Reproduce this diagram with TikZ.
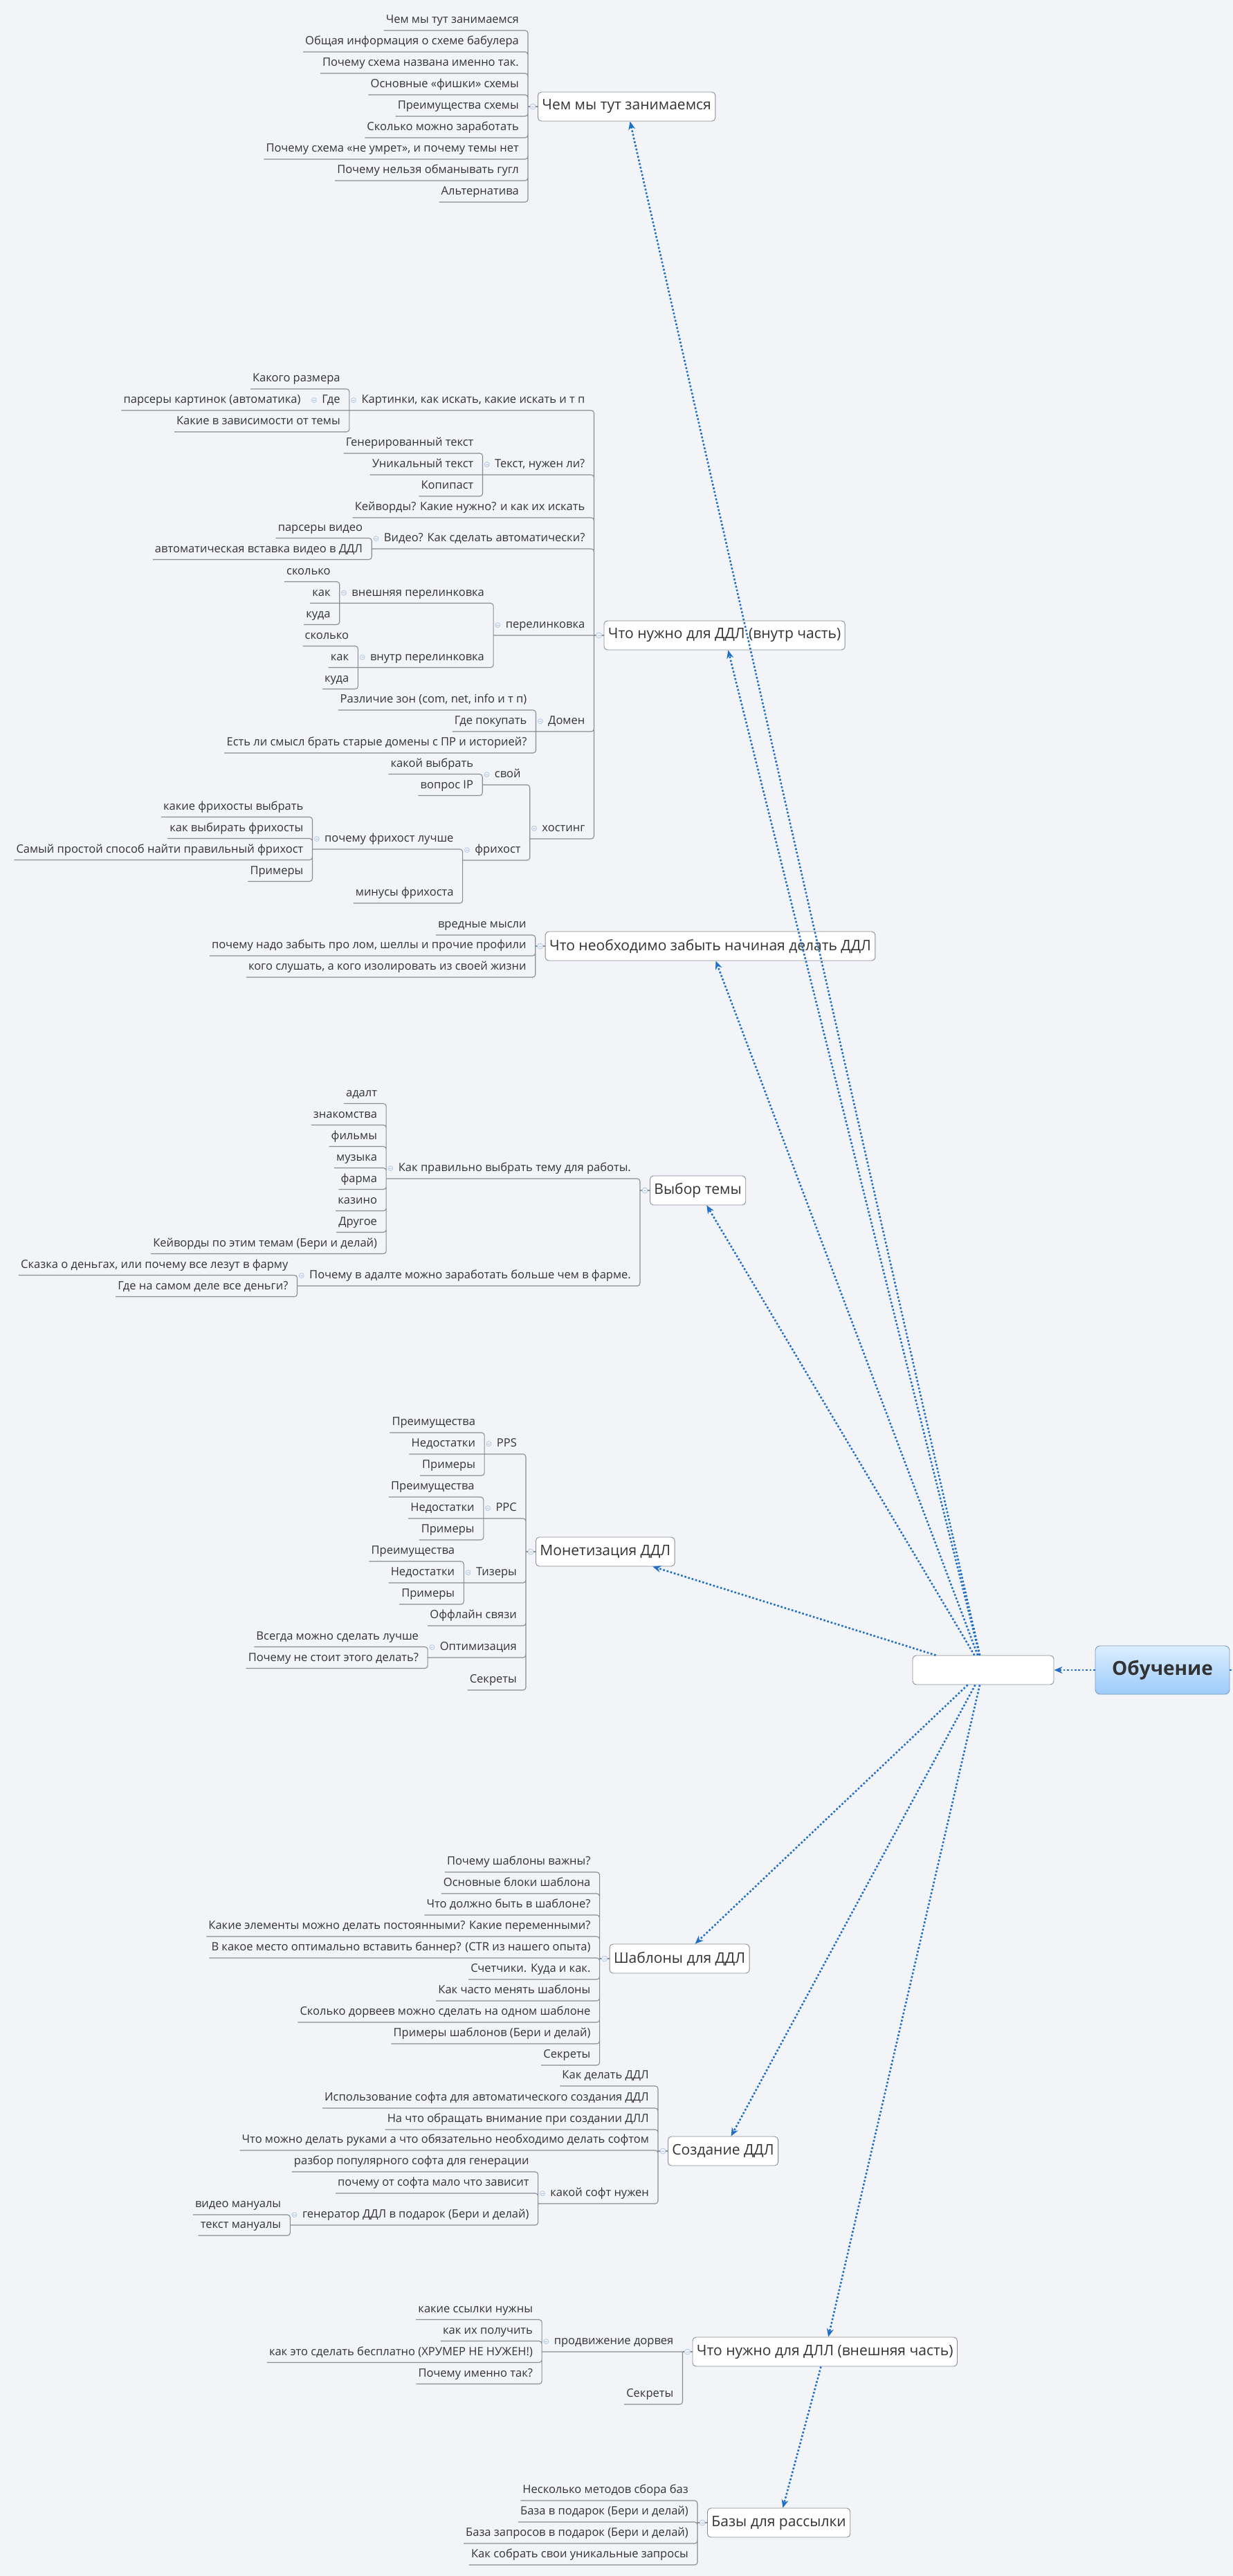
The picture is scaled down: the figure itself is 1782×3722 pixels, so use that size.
\documentclass[tikz,border=0pt]{standalone}
\usepackage{fontspec}
\setmainfont{Open Sans}
\usepackage{tikz}
\usetikzlibrary{arrows.meta,positioning}
\definecolor{mapBg}{HTML}{F2F4F7}
\definecolor{mapLine}{HTML}{8A8D93}
\definecolor{mapText}{HTML}{333333}
\definecolor{mapBlue}{HTML}{1F6FC5}
\definecolor{togLine}{HTML}{B4C9E3}
\definecolor{togFill}{HTML}{EEF3FA}
\definecolor{rootTop}{HTML}{DCEEFF}
\definecolor{rootBot}{HTML}{9CCBFA}
\definecolor{rootEdge}{HTML}{7E9CBD}

\begin{document}
\begin{tikzpicture}[x=1pt, y=-1pt, >=Stealth,
  leaf/.style={anchor=south east, inner xsep=3pt, inner ysep=0pt,
    text height=12pt, text depth=10pt, font=\fontsize{16.5}{18}\selectfont, text=mapText},
  sub/.style={leaf, execute at begin node={\hspace*{14.5pt}},
    path picture={
      \draw[togLine, fill=togFill, line width=0.8pt]
        ([xshift=6pt,yshift=3.7pt]path picture bounding box.west) circle (3.5pt);
      \draw[togLine, line width=0.8pt]
        ([xshift=4pt,yshift=3.7pt]path picture bounding box.west) -- ([xshift=8pt,yshift=3.7pt]path picture bounding box.west);}},
  topic/.style={anchor=west, draw=mapLine, fill=white, rounded corners=5pt, line width=0.9pt,
    inner xsep=6pt, minimum height=42pt, font=\fontsize{21}{24}\selectfont, text=mapText},
  hubbox/.style={draw=mapLine, fill=white, rounded corners=5pt, line width=0.9pt,
    minimum width=204pt, minimum height=42pt},
  root/.style={draw=rootEdge, top color=rootTop, bottom color=rootBot, rounded corners=7pt,
    line width=0.9pt, minimum width=194pt, minimum height=70pt,
    font=\bfseries\fontsize{28}{32}\selectfont, text=mapText},
  tog/.style={circle, draw=togLine, fill=togFill, line width=0.8pt, minimum size=8pt, inner sep=0pt,
    path picture={\draw[togLine, line width=0.8pt] ([xshift=-2pt]path picture bounding box.center) -- ([xshift=2pt]path picture bounding box.center);}},
  ln/.style={mapLine, line width=1.1pt, rounded corners=4pt},
  rel/.style={mapBlue, line width=2.6pt, dash pattern=on 2.6pt off 2.8pt, -{Stealth[length=12pt,width=10pt]}}]

\useasboundingbox (0,0) rectangle (1782,3722);
\fill[mapBg] (0,0) rectangle (1782,3722);

% --- root and hub ---
\node[root] (obuch) at (1680,2413) {Обучение};
\node[hubbox] (hub) at (1421,2413) {};
\coordinate (edgeR) at (1782,2413);

% --- Чем мы тут занимаемся ---
\node[topic] (zan) at (777,154) {Чем мы тут занимаемся};
\coordinate (zanB) at ([xshift=-14pt]zan.west);
\node[leaf] (zan1) at ([shift={(-10,-110)}]zanB) {Чем мы тут занимаемся};
\node[leaf] (zan2) at ([shift={(-10,-79)}]zanB) {Общая информация о схеме бабулера};
\node[leaf] (zan3) at ([shift={(-10,-48)}]zanB) {Почему схема названа именно так.};
\node[leaf] (zan4) at ([shift={(-10,-17)}]zanB) {Основные «фишки» схемы};
\node[leaf] (zan5) at ([shift={(-10,14)}]zanB) {Преимущества схемы};
\node[leaf] (zan6) at ([shift={(-10,45)}]zanB) {Сколько можно заработать};
\node[leaf] (zan7) at ([shift={(-10,76)}]zanB) {Почему схема «не умрет», и почему темы нет};
\node[leaf] (zan8) at ([shift={(-10,107)}]zanB) {Почему нельзя обманывать гугл};
\node[leaf] (zan9) at ([shift={(-10,138)}]zanB) {Альтернатива};
\draw[ln] (zan1.south west) -| (zanB) (zan2.south west) -| (zanB) (zan3.south west) -| (zanB)
  (zan4.south west) -| (zanB) (zan5.south west) -| (zanB) (zan6.south west) -| (zanB)
  (zan7.south west) -| (zanB) (zan8.south west) -| (zanB) (zan9.south west) -| (zanB);
\draw[ln] (zanB) -- (zan.west);
\node[tog] (zanT) at ([xshift=-7pt]zan.west) {};

% --- Что нужно для ДДЛ (внутр часть) ---
\node[topic] (vnutr) at (872.5,918) {Что нужно для ДДЛ (внутр часть)};
\coordinate (vnutrB) at ([xshift=-14pt]vnutr.west);
\node[sub] (kart) at ([shift={(-10,-325)}]vnutrB) {Картинки, как искать, какие искать и т п};
\node[sub] (tekst) at ([shift={(-10,-232)}]vnutrB) {Текст, нужен ли?};
\node[leaf] (keyw) at ([shift={(-10,-170)}]vnutrB) {Кейворды? Какие нужно? и как их искать};
\node[sub] (video) at ([shift={(-10,-125)}]vnutrB) {Видео? Как сделать автоматически?};
\node[sub] (perel) at ([shift={(-10,0)}]vnutrB) {перелинковка};
\node[sub] (domen) at ([shift={(-10,139)}]vnutrB) {Домен};
\node[sub] (host) at ([shift={(-10,294)}]vnutrB) {хостинг};
\draw[ln] (kart.south west) -| (vnutrB) (tekst.south west) -| (vnutrB) (keyw.south west) -| (vnutrB)
  (video.south west) -| (vnutrB) (perel.south west) -- (vnutrB) (domen.south west) -| (vnutrB)
  (host.south west) -| (vnutrB);
\draw[ln] (vnutrB) -- (vnutr.west);
\node[tog] (vnutrT) at ([xshift=-7pt]vnutr.west) {};

\node[leaf] (kart1) at ([shift={(-10,-31)}]kart.south west) {Какого размера};
\node[sub] (gde) at ([shift={(-10,0)}]kart.south west) {Где};
\node[leaf] (kart3) at ([shift={(-10,31)}]kart.south west) {Какие в зависимости от темы};
\node[leaf] (gde1) at ([shift={(-10,0)}]gde.south west) {парсеры картинок (автоматика)};
\draw[ln] (kart1.south west) -| (kart.south west) (gde.south west) -- (kart.south west)
  (kart3.south west) -| (kart.south west) (gde1.south west) -- (gde.south west);

\node[leaf] (tekst1) at ([shift={(-10,-31)}]tekst.south west) {Генерированный текст};
\node[leaf] (tekst2) at ([shift={(-10,0)}]tekst.south west) {Уникальный текст};
\node[leaf] (tekst3) at ([shift={(-10,31)}]tekst.south west) {Копипаст};
\draw[ln] (tekst1.south west) -| (tekst.south west) (tekst2.south west) -- (tekst.south west)
  (tekst3.south west) -| (tekst.south west);

\node[leaf] (video1) at ([shift={(-10,-15.5)}]video.south west) {парсеры видео};
\node[leaf] (video2) at ([shift={(-10,15.5)}]video.south west) {автоматическая вставка видео в ДДЛ};
\draw[ln] (video1.south west) -| (video.south west) (video2.south west) -| (video.south west);

\node[sub] (vneshp) at ([shift={(-10,-46.5)}]perel.south west) {внешняя перелинковка};
\node[sub] (vnutrp) at ([shift={(-10,46.5)}]perel.south west) {внутр перелинковка};
\draw[ln] (vneshp.south west) -| (perel.south west) (vnutrp.south west) -| (perel.south west);
\node[leaf] (vneshp1) at ([shift={(-10,-31)}]vneshp.south west) {сколько};
\node[leaf] (vneshp2) at ([shift={(-10,0)}]vneshp.south west) {как};
\node[leaf] (vneshp3) at ([shift={(-10,31)}]vneshp.south west) {куда};
\draw[ln] (vneshp1.south west) -| (vneshp.south west) (vneshp2.south west) -- (vneshp.south west)
  (vneshp3.south west) -| (vneshp.south west);
\node[leaf] (vnutrp1) at ([shift={(-10,-31)}]vnutrp.south west) {сколько};
\node[leaf] (vnutrp2) at ([shift={(-10,0)}]vnutrp.south west) {как};
\node[leaf] (vnutrp3) at ([shift={(-10,31)}]vnutrp.south west) {куда};
\draw[ln] (vnutrp1.south west) -| (vnutrp.south west) (vnutrp2.south west) -- (vnutrp.south west)
  (vnutrp3.south west) -| (vnutrp.south west);

\node[leaf] (domen1) at ([shift={(-10,-31)}]domen.south west) {Различие зон (com, net, info и т п)};
\node[leaf] (domen2) at ([shift={(-10,0)}]domen.south west) {Где покупать};
\node[leaf] (domen3) at ([shift={(-10,31)}]domen.south west) {Есть ли смысл брать старые домены с ПР и историей?};
\draw[ln] (domen1.south west) -| (domen.south west) (domen2.south west) -- (domen.south west)
  (domen3.south west) -| (domen.south west);

\node[sub] (svoy) at ([shift={(-10,-78)}]host.south west) {свой};
\node[sub] (free) at ([shift={(-10,31)}]host.south west) {фрихост};
\draw[ln] (svoy.south west) -| (host.south west) (free.south west) -| (host.south west);
\node[leaf] (svoy1) at ([shift={(-10,-15.5)}]svoy.south west) {какой выбрать};
\node[leaf] (svoy2) at ([shift={(-10,15.5)}]svoy.south west) {вопрос IP};
\draw[ln] (svoy1.south west) -| (svoy.south west) (svoy2.south west) -| (svoy.south west);
\node[sub] (whyfree) at ([shift={(-10,-16)}]free.south west) {почему фрихост лучше};
\node[leaf] (free2) at ([shift={(-10,62)}]free.south west) {минусы фрихоста};
\draw[ln] (whyfree.south west) -| (free.south west) (free2.south west) -| (free.south west);
\node[leaf] (whyfree1) at ([shift={(-10,-46.5)}]whyfree.south west) {какие фрихосты выбрать};
\node[leaf] (whyfree2) at ([shift={(-10,-15.5)}]whyfree.south west) {как выбирать фрихосты};
\node[leaf] (whyfree3) at ([shift={(-10,15.5)}]whyfree.south west) {Самый простой способ найти правильный фрихост};
\node[leaf] (whyfree4) at ([shift={(-10,46.5)}]whyfree.south west) {Примеры};
\draw[ln] (whyfree1.south west) -| (whyfree.south west) (whyfree2.south west) -| (whyfree.south west)
  (whyfree3.south west) -| (whyfree.south west) (whyfree4.south west) -| (whyfree.south west);

% --- Что необходимо забыть ---
\node[topic] (zabyt) at (787.7,1367) {Что необходимо забыть начиная делать ДДЛ};
\coordinate (zabytB) at ([xshift=-14pt]zabyt.west);
\node[leaf] (zabyt1) at ([shift={(-10,-16)}]zabytB) {вредные мысли};
\node[leaf] (zabyt2) at ([shift={(-10,14)}]zabytB) {почему надо забыть про лом, шеллы и прочие профили};
\node[leaf] (zabyt3) at ([shift={(-10,45)}]zabytB) {кого слушать, а кого изолировать из своей жизни};
\draw[ln] (zabyt1.south west) -| (zabytB) (zabyt2.south west) -| (zabytB) (zabyt3.south west) -| (zabytB);
\draw[ln] (zabytB) -- (zabyt.west);
\node[tog] (zabytT) at ([xshift=-7pt]zabyt.west) {};

% --- Выбор темы ---
\node[topic] (tema) at (939,1720) {Выбор темы};
\coordinate (temaB) at ([xshift=-14pt]tema.west);
\node[sub] (kakt) at ([shift={(-10,-17)}]temaB) {Как правильно выбрать тему для работы.};
\node[sub] (adalt) at ([shift={(-10,138)}]temaB) {Почему в адалте можно заработать больше чем в фарме.};
\draw[ln] (kakt.south west) -| (temaB) (adalt.south west) -| (temaB);
\draw[ln] (temaB) -- (tema.west);
\node[tog] (temaT) at ([xshift=-7pt]tema.west) {};
\node[leaf] (kakt1) at ([shift={(-10,-108.5)}]kakt.south west) {адалт};
\node[leaf] (kakt2) at ([shift={(-10,-77.5)}]kakt.south west) {знакомства};
\node[leaf] (kakt3) at ([shift={(-10,-46.5)}]kakt.south west) {фильмы};
\node[leaf] (kakt4) at ([shift={(-10,-15.5)}]kakt.south west) {музыка};
\node[leaf] (kakt5) at ([shift={(-10,15.5)}]kakt.south west) {фарма};
\node[leaf] (kakt6) at ([shift={(-10,46.5)}]kakt.south west) {казино};
\node[leaf] (kakt7) at ([shift={(-10,77.5)}]kakt.south west) {Другое};
\node[leaf] (kakt8) at ([shift={(-10,108.5)}]kakt.south west) {Кейворды по этим темам (Бери и делай)};
\draw[ln] (kakt1.south west) -| (kakt.south west) (kakt2.south west) -| (kakt.south west)
  (kakt3.south west) -| (kakt.south west) (kakt4.south west) -| (kakt.south west)
  (kakt5.south west) -| (kakt.south west) (kakt6.south west) -| (kakt.south west)
  (kakt7.south west) -| (kakt.south west) (kakt8.south west) -| (kakt.south west);
\node[leaf] (adalt1) at ([shift={(-10,-15.5)}]adalt.south west) {Сказка о деньгах, или почему все лезут в фарму};
\node[leaf] (adalt2) at ([shift={(-10,15.5)}]adalt.south west) {Где на самом деле все деньги?};
\draw[ln] (adalt1.south west) -| (adalt.south west) (adalt2.south west) -| (adalt.south west);

% --- Монетизация ДДЛ ---
\node[topic] (monet) at (774,2242) {Монетизация ДДЛ};
\coordinate (monetB) at ([xshift=-14pt]monet.west);
\node[sub] (pps) at ([shift={(-10,-141)}]monetB) {PPS};
\node[sub] (ppc) at ([shift={(-10,-48)}]monetB) {PPC};
\node[sub] (teaser) at ([shift={(-10,45)}]monetB) {Тизеры};
\node[leaf] (offl) at ([shift={(-10,107)}]monetB) {Оффлайн связи};
\node[sub] (optim) at ([shift={(-10,153)}]monetB) {Оптимизация};
\node[leaf] (msekr) at ([shift={(-10,200)}]monetB) {Секреты};
\draw[ln] (pps.south west) -| (monetB) (ppc.south west) -| (monetB) (teaser.south west) -| (monetB)
  (offl.south west) -| (monetB) (optim.south west) -| (monetB) (msekr.south west) -| (monetB);
\draw[ln] (monetB) -- (monet.west);
\node[tog] (monetT) at ([xshift=-7pt]monet.west) {};
\node[leaf] (pps1) at ([shift={(-10,-31)}]pps.south west) {Преимущества};
\node[leaf] (pps2) at ([shift={(-10,0)}]pps.south west) {Недостатки};
\node[leaf] (pps3) at ([shift={(-10,31)}]pps.south west) {Примеры};
\draw[ln] (pps1.south west) -| (pps.south west) (pps2.south west) -- (pps.south west) (pps3.south west) -| (pps.south west);
\node[leaf] (ppc1) at ([shift={(-10,-31)}]ppc.south west) {Преимущества};
\node[leaf] (ppc2) at ([shift={(-10,0)}]ppc.south west) {Недостатки};
\node[leaf] (ppc3) at ([shift={(-10,31)}]ppc.south west) {Примеры};
\draw[ln] (ppc1.south west) -| (ppc.south west) (ppc2.south west) -- (ppc.south west) (ppc3.south west) -| (ppc.south west);
\node[leaf] (teaser1) at ([shift={(-10,-31)}]teaser.south west) {Преимущества};
\node[leaf] (teaser2) at ([shift={(-10,0)}]teaser.south west) {Недостатки};
\node[leaf] (teaser3) at ([shift={(-10,31)}]teaser.south west) {Примеры};
\draw[ln] (teaser1.south west) -| (teaser.south west) (teaser2.south west) -- (teaser.south west) (teaser3.south west) -| (teaser.south west);
\node[leaf] (optim1) at ([shift={(-10,-15.5)}]optim.south west) {Всегда можно сделать лучше};
\node[leaf] (optim2) at ([shift={(-10,15.5)}]optim.south west) {Почему не стоит этого делать?};
\draw[ln] (optim1.south west) -| (optim.south west) (optim2.south west) -| (optim.south west);

% --- Шаблоны для ДДЛ ---
\node[topic] (shabl) at (880.6,2830) {Шаблоны для ДДЛ};
\coordinate (shablB) at ([xshift=-14pt]shabl.west);
\node[leaf] (shabl1) at ([shift={(-10,-125)}]shablB) {Почему шаблоны важны?};
\node[leaf] (shabl2) at ([shift={(-10,-94)}]shablB) {Основные блоки шаблона};
\node[leaf] (shabl3) at ([shift={(-10,-63)}]shablB) {Что должно быть в шаблоне?};
\node[leaf] (shabl4) at ([shift={(-10,-32)}]shablB) {Какие элементы можно делать постоянными? Какие переменными?};
\node[leaf] (shabl5) at ([shift={(-10,-1)}]shablB) {В какое место оптимально вставить баннер? (CTR из нашего опыта)};
\node[leaf] (shabl6) at ([shift={(-10,30)}]shablB) {Счетчики. Куда и как.};
\node[leaf] (shabl7) at ([shift={(-10,61)}]shablB) {Как часто менять шаблоны};
\node[leaf] (shabl8) at ([shift={(-10,92)}]shablB) {Сколько дорвеев можно сделать на одном шаблоне};
\node[leaf] (shabl9) at ([shift={(-10,123)}]shablB) {Примеры шаблонов (Бери и делай)};
\node[leaf] (shabl10) at ([shift={(-10,154)}]shablB) {Секреты};
\draw[ln] (shabl1.south west) -| (shablB) (shabl2.south west) -| (shablB) (shabl3.south west) -| (shablB)
  (shabl4.south west) -| (shablB) (shabl5.south west) -| (shablB) (shabl6.south west) -| (shablB)
  (shabl7.south west) -| (shablB) (shabl8.south west) -| (shablB) (shabl9.south west) -| (shablB)
  (shabl10.south west) -| (shablB);
\draw[ln] (shablB) -- (shabl.west);
\node[tog] (shablT) at ([xshift=-7pt]shabl.west) {};

% --- Создание ДДЛ ---
\node[topic] (sozd) at (965,3108) {Создание ДДЛ};
\coordinate (sozdB) at ([xshift=-14pt]sozd.west);
\node[leaf] (sozd1) at ([shift={(-10,-94)}]sozdB) {Как делать ДДЛ};
\node[leaf] (sozd2) at ([shift={(-10,-62)}]sozdB) {Использование софта для автоматического создания ДДЛ};
\node[leaf] (sozd3) at ([shift={(-10,-31)}]sozdB) {На что обращать внимание при создании ДЛЛ};
\node[leaf] (sozd4) at ([shift={(-10,-1)}]sozdB) {Что можно делать руками а что обязательно необходимо делать софтом};
\node[sub] (soft) at ([shift={(-10,76)}]sozdB) {какой софт нужен};
\draw[ln] (sozd1.south west) -| (sozdB) (sozd2.south west) -| (sozdB) (sozd3.south west) -| (sozdB)
  (sozd4.south west) -| (sozdB) (soft.south west) -| (sozdB);
\draw[ln] (sozdB) -- (sozd.west);
\node[tog] (sozdT) at ([xshift=-7pt]sozd.west) {};
\node[leaf] (soft1) at ([shift={(-10,-46)}]soft.south west) {разбор популярного софта для генерации};
\node[leaf] (soft2) at ([shift={(-10,-15)}]soft.south west) {почему от софта мало что зависит};
\node[sub] (gen) at ([shift={(-10,31)}]soft.south west) {генератор ДДЛ в подарок (Бери и делай)};
\draw[ln] (soft1.south west) -| (soft.south west) (soft2.south west) -| (soft.south west) (gen.south west) -| (soft.south west);
\node[leaf] (gen1) at ([shift={(-10,-15)}]gen.south west) {видео мануалы};
\node[leaf] (gen2) at ([shift={(-10,15)}]gen.south west) {текст мануалы};
\draw[ln] (gen1.south west) -| (gen.south west) (gen2.south west) -| (gen.south west);

% --- Что нужно для ДЛЛ (внешняя часть) ---
\node[topic] (vnesh) at (1000.5,3398) {Что нужно для ДЛЛ (внешняя часть)};
\coordinate (vneshB) at ([xshift=-14pt]vnesh.west);
\node[sub] (prodv) at ([shift={(-10,0)}]vneshB) {продвижение дорвея};
\node[leaf] (vsekr) at ([shift={(-10,76)}]vneshB) {Секреты};
\draw[ln] (prodv.south west) -- (vneshB) (vsekr.south west) -| (vneshB);
\draw[ln] (vneshB) -- (vnesh.west);
\node[tog] (vneshT) at ([xshift=-7pt]vnesh.west) {};
\node[leaf] (prodv1) at ([shift={(-10,-46.5)}]prodv.south west) {какие ссылки нужны};
\node[leaf] (prodv2) at ([shift={(-10,-15.5)}]prodv.south west) {как их получить};
\node[leaf] (prodv3) at ([shift={(-10,15.5)}]prodv.south west) {как это сделать бесплатно (ХРУМЕР НЕ НУЖЕН!)};
\node[leaf] (prodv4) at ([shift={(-10,46.5)}]prodv.south west) {Почему именно так?};
\draw[ln] (prodv1.south west) -| (prodv.south west) (prodv2.south west) -| (prodv.south west)
  (prodv3.south west) -| (prodv.south west) (prodv4.south west) -| (prodv.south west);

% --- Базы для рассылки ---
\node[topic] (bazy) at (1022,3645) {Базы для рассылки};
\coordinate (bazyB) at ([xshift=-14pt]bazy.west);
\node[leaf] (bazy1) at ([shift={(-10,-32)}]bazyB) {Несколько методов сбора баз};
\node[leaf] (bazy2) at ([shift={(-10,-1)}]bazyB) {База в подарок (Бери и делай)};
\node[leaf] (bazy3) at ([shift={(-10,30)}]bazyB) {База запросов в подарок (Бери и делай)};
\node[leaf] (bazy4) at ([shift={(-10,61)}]bazyB) {Как собрать свои уникальные запросы};
\draw[ln] (bazy1.south west) -| (bazyB) (bazy2.south west) -| (bazyB) (bazy3.south west) -| (bazyB)
  (bazy4.south west) -| (bazyB);
\draw[ln] (bazyB) -- (bazy.west);
\node[tog] (bazyT) at ([xshift=-7pt]bazy.west) {};

% --- relations ---
\draw[rel] (obuch) -- (hub);
\draw[rel,-] (obuch) -- (edgeR);
\draw[rel] (hub) -- (zan);
\draw[rel] (hub) -- (vnutr);
\draw[rel] (hub) -- (zabyt);
\draw[rel] (hub) -- (tema);
\draw[rel] (hub) -- (monet);
\draw[rel] (hub) -- (shabl);
\draw[rel] (hub) -- (sozd);
\draw[rel] (hub) -- (vnesh);
\draw[rel] (vnesh) -- (bazy);
\end{tikzpicture}
\end{document}
